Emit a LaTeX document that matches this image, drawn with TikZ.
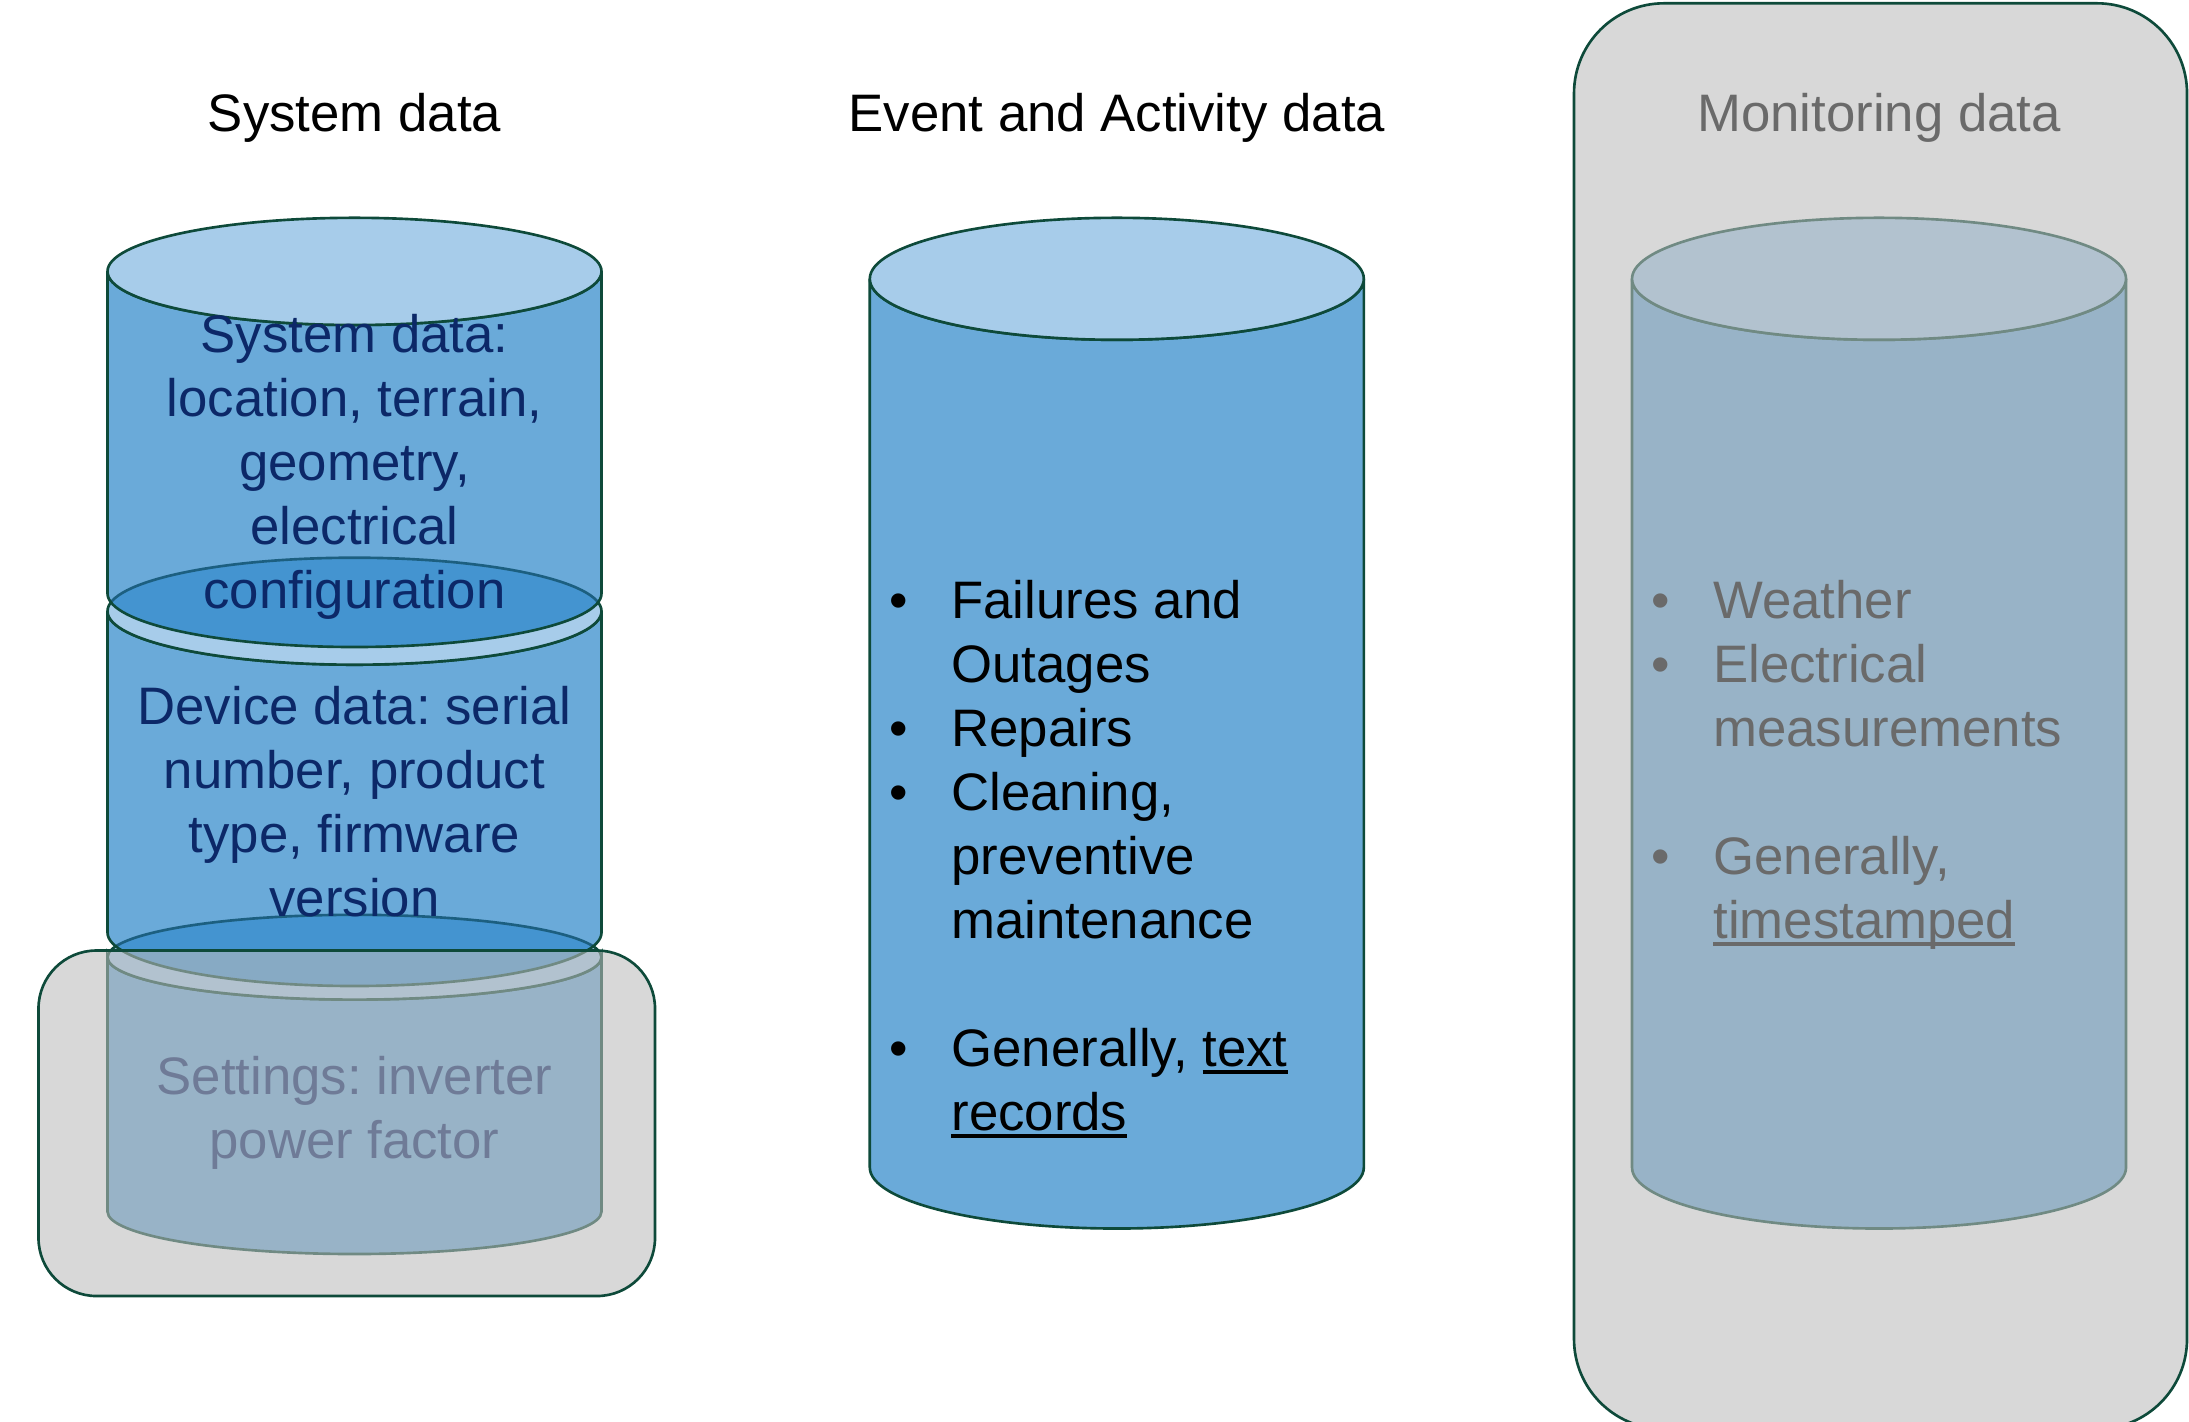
\documentclass[tikz,border=0pt]{standalone}
\usepackage{fontspec}
\setmainfont{Liberation Sans}
\frenchspacing
\definecolor{canbody}{RGB}{106,170,217}
\definecolor{cantop}{RGB}{167,204,234}
\definecolor{canover}{RGB}{68,148,208}
\definecolor{canline}{RGB}{14,74,58}
\definecolor{canlinethru}{RGB}{28,95,128}
\definecolor{navytext}{RGB}{12,40,104}
\definecolor{veil}{RGB}{187,187,187}
\newsavebox\ulbox
\newcommand\ulined[1]{\sbox\ulbox{#1}\rlap{\rule[-0.15em]{\wd\ulbox}{0.075em}}\usebox\ulbox}
\begin{document}
\begin{tikzpicture}[x=0.01cm,y=0.01cm,
  every node/.style={inner sep=0pt,font=\fontsize{15}{18.2}\selectfont\frenchspacing},
  cansides/.style={fill=canbody,draw=canline,line width=0.75pt},
  canbodyfill/.style={fill=canbody},
  canstroke/.style={draw=canline,line width=0.75pt},
  cantopst/.style={fill=cantop,draw=canline,line width=0.75pt},
  veilbox/.style={fill=veil,fill opacity=0.57,draw=canline,line width=0.75pt},
  titletext/.style={anchor=base}]
\useasboundingbox (0,0) rectangle (2189,-1421);
\begin{scope}
\clip (0,0) rectangle (2189,-1421);

% titles
\node[titletext] (t1) at (354.5,-131) {System data};
\node[titletext] (t2) at (1116.8,-131) {Event and Activity data};
\node[titletext] (t3) at (1879,-131) {Monitoring data};

% ---- left stack: cylinder 3 (settings)
\path[cansides] (107.5,-957.2) -- (107.5,-1211.6) arc[start angle=180,end angle=360,x radius=247,y radius=42.4] -- (601.5,-957.2) arc[start angle=0,end angle=-180,x radius=247,y radius=42.4] -- cycle;
\path[cantopst] (354.5,-957.2) ellipse[x radius=247,y radius=42.4];

% ---- cylinder 2 (device)
\path[canbodyfill] (107.5,-611.2) -- (107.5,-932.5) arc[start angle=180,end angle=360,x radius=247,y radius=53.5] -- (601.5,-611.2) arc[start angle=0,end angle=-180,x radius=247,y radius=53.5] -- cycle;
\begin{scope}
\clip (107.5,-611.2) -- (107.5,-932.5) arc[start angle=180,end angle=360,x radius=247,y radius=53.5] -- (601.5,-611.2) arc[start angle=0,end angle=-180,x radius=247,y radius=53.5] -- cycle;
\path[fill=canover,draw=canlinethru,line width=0.75pt] (354.5,-957.2) ellipse[x radius=247,y radius=42.4];
\end{scope}
\path[canstroke] (107.5,-611.2) -- (107.5,-932.5) arc[start angle=180,end angle=360,x radius=247,y radius=53.5] -- (601.5,-611.2) arc[start angle=0,end angle=-180,x radius=247,y radius=53.5] -- cycle;
\path[cantopst] (354.5,-611.2) ellipse[x radius=247,y radius=53.5];

% ---- cylinder 1 (system)
\path[canbodyfill] (107.5,-271.4) -- (107.5,-593.4) arc[start angle=180,end angle=360,x radius=247,y radius=53.6] -- (601.5,-271.4) arc[start angle=0,end angle=-180,x radius=247,y radius=53.6] -- cycle;
\begin{scope}
\clip (107.5,-271.4) -- (107.5,-593.4) arc[start angle=180,end angle=360,x radius=247,y radius=53.6] -- (601.5,-271.4) arc[start angle=0,end angle=-180,x radius=247,y radius=53.6] -- cycle;
\path[fill=canover,draw=canlinethru,line width=0.75pt] (354.5,-611.2) ellipse[x radius=247,y radius=53.5];
\end{scope}
\path[canstroke] (107.5,-271.4) -- (107.5,-593.4) arc[start angle=180,end angle=360,x radius=247,y radius=53.6] -- (601.5,-271.4) arc[start angle=0,end angle=-180,x radius=247,y radius=53.6] -- cycle;
\path[cantopst] (354.5,-271.4) ellipse[x radius=247,y radius=53.6];

% left texts
\node[anchor=base,text=navytext] (sysTxt) at (354.5,-352) {\begin{tabular}[t]{@{}c@{}}System data:\\ location, terrain,\\ geometry,\\ electrical\\ configuration\end{tabular}};
\node[anchor=base,text=navytext] (devTxt) at (354.5,-724) {\begin{tabular}[t]{@{}c@{}}Device data: serial\\ number, product\\ type, firmware\\ version\end{tabular}};
\node[anchor=base,text=navytext] (setTxt) at (354.5,-1094) {\begin{tabular}[t]{@{}c@{}}Settings: inverter\\ power factor\end{tabular}};

% left veil
\draw[veilbox,rounded corners=0.58cm] (38.5,-950.5) rectangle (655,-1296);

% ---- event cylinder
\path[cansides] (869.8,-278.8) -- (869.8,-1167.5) arc[start angle=180,end angle=360,x radius=247,y radius=61] -- (1363.8,-278.8) arc[start angle=0,end angle=-180,x radius=247,y radius=61] -- cycle;
\path[cantopst] (1116.8,-278.8) ellipse[x radius=247,y radius=61];
\node[anchor=base west] (evTxt) at (889,-618.3) {\begin{tabular}[t]{@{}p{0.617cm}@{}l@{}}\textbullet & Failures and\\ & Outages\\ \textbullet & Repairs\\ \textbullet & Cleaning,\\ & preventive\\ & maintenance\\ & \\ \textbullet & Generally, \ulined{text}\\ & \ulined{records}\end{tabular}};

% ---- monitoring cylinder
\path[cansides] (1632,-278.8) -- (1632,-1167.5) arc[start angle=180,end angle=360,x radius=247,y radius=61] -- (2126,-278.8) arc[start angle=0,end angle=-180,x radius=247,y radius=61] -- cycle;
\path[cantopst] (1879,-278.8) ellipse[x radius=247,y radius=61];
\node[anchor=base west] (monTxt) at (1650.9,-618.3) {\begin{tabular}[t]{@{}p{0.617cm}@{}l@{}}\textbullet & Weather\\ \textbullet & Electrical\\ & measurements\\ & \\ \textbullet & Generally,\\ & \ulined{timestamped}\end{tabular}};

% right veil
\draw[veilbox,rounded corners=0.9cm] (1574,-3.3) rectangle (2187,-1429);
\end{scope}
\end{tikzpicture}
\end{document}
